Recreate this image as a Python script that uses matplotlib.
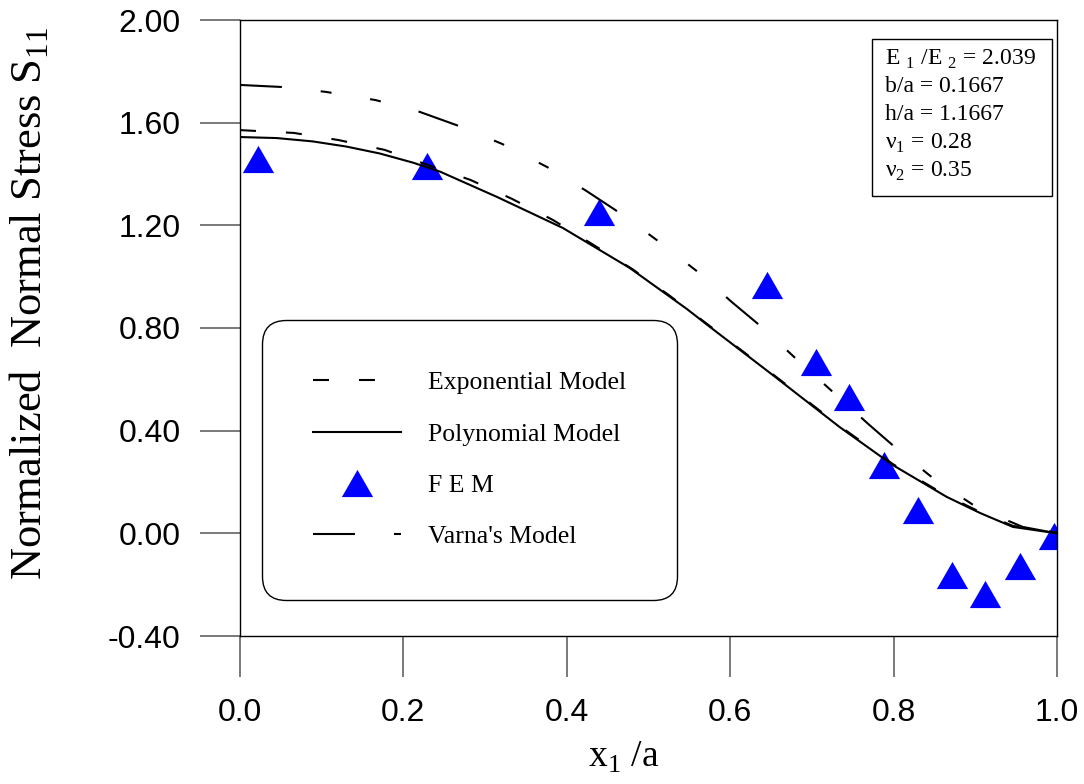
import matplotlib
matplotlib.use("Agg")
import matplotlib.pyplot as plt
from matplotlib.patches import Rectangle

# curve readings: normalized position x1/a vs normalized stress S11
poly_x = [0.0, 0.045, 0.089, 0.13, 0.171, 0.212, 0.245, 0.315, 0.395, 0.477, 0.547, 0.572,
          0.652, 0.734, 0.799, 0.865, 0.906, 0.946, 1.0]
poly_y = [1.544, 1.540, 1.527, 1.507, 1.480, 1.444, 1.409, 1.310, 1.190, 1.034, 0.874, 0.812,
          0.617, 0.414, 0.266, 0.142, 0.079, 0.025, 0.0]

expo_x = [0.0, 0.066, 0.121, 0.177, 0.230, 0.282, 0.333, 0.383, 0.431, 0.480, 0.525, 0.572,
          0.652, 0.734, 0.799, 0.865, 0.906, 0.946, 1.0]
expo_y = [1.571, 1.560, 1.532, 1.494, 1.435, 1.377, 1.303, 1.221, 1.127, 1.030, 0.928, 0.815,
          0.620, 0.418, 0.270, 0.146, 0.083, 0.029, 0.003]

varna_x = [0.0, 0.051, 0.105, 0.166, 0.220, 0.268, 0.321, 0.376, 0.424, 0.465, 0.510, 0.559,
           0.602, 0.640, 0.681, 0.727, 0.769, 0.807, 0.851, 0.903, 0.958, 1.0]
varna_y = [1.747, 1.739, 1.720, 1.688, 1.642, 1.587, 1.517, 1.427, 1.334, 1.248, 1.143, 1.022,
           0.901, 0.800, 0.679, 0.547, 0.426, 0.321, 0.208, 0.099, 0.025, 0.0]

fem_x = [0.022, 0.229, 0.439, 0.645, 0.705, 0.745, 0.788, 0.830, 0.871, 0.912, 0.955, 0.996]
fem_y = [1.460, 1.431, 1.252, 0.968, 0.668, 0.531, 0.266, 0.091, -0.162, -0.236, -0.127, -0.011]

x_ticks = [0.0, 0.2, 0.4, 0.6, 0.8, 1.0]
y_ticks = [-0.40, 0.00, 0.40, 0.80, 1.20, 1.60, 2.00]

info_lines = [
    "E $_\\mathregular{1}$ /E $_\\mathregular{2}$ = 2.039",
    "b/a = 0.1667",
    "h/a = 1.1667",
    "\u03bd$_\\mathregular{1}$ = 0.28",
    "\u03bd$_\\mathregular{2}$ = 0.35",
]

plt.rcParams["axes.unicode_minus"] = False
plt.rcParams["font.family"] = ["Liberation Serif", "DejaVu Serif"]
plt.rcParams["mathtext.fontset"] = "custom"
plt.rcParams["mathtext.rm"] = "Liberation Serif"

fig = plt.figure(figsize=(10.84, 7.84), dpi=100, facecolor="white")
ax = fig.add_axes([240 / 1084, 1 - 636 / 784, 817 / 1084, 616 / 784])

lw = 1.5
# triangle a bit wider than tall
tri = [(-1.0, -0.87), (1.0, -0.87), (0.0, 0.87), (-1.0, -0.87)]

ax.plot(expo_x, expo_y, color="black", lw=lw, dashes=(11.5 / lw, 21.6 / lw),
        label="Exponential Model", zorder=3)
ax.plot(poly_x, poly_y, color="black", lw=lw, label="Polynomial Model", zorder=3)
ax.plot(fem_x, fem_y, linestyle="none", marker=tri, markersize=22.5,
        markerfacecolor="#0000ff", markeredgewidth=0, label="F E M", zorder=2)
ax.plot(varna_x, varna_y, color="black", lw=lw,
        dashes=(30.2 / lw, 28.1 / lw, 7.9 / lw, 28.1 / lw, 7.9 / lw, 28.1 / lw),
        label="Varna's Model", zorder=3)

ax.set_xlim(0, 1.0)
ax.set_ylim(-0.4, 2.0)
ax.set_xticks(x_ticks)
ax.set_xticklabels([f"{v:.1f}" for v in x_ticks])
ax.set_yticks(y_ticks)
ax.set_yticklabels([f"{v:.2f}" for v in y_ticks])

for spine in ax.spines.values():
    spine.set_linewidth(1.0)
    spine.set_color("black")

ax.tick_params(axis="y", direction="out", length=28.8, width=1.1, color="#555555",
               pad=14, labelsize=23)
ax.tick_params(axis="x", direction="out", length=29.5, width=1.1, color="#555555",
               pad=15, labelsize=23)
for lab in ax.get_xticklabels() + ax.get_yticklabels():
    lab.set_fontfamily("Liberation Sans")

ax.set_xlabel("x$_\\mathregular{1}$ /a", fontsize=27)
ax.xaxis.set_label_coords(0.469, -0.168)
ax.set_ylabel("Normalized  Normal Stress S$_\\mathregular{11}$", fontsize=32)
ax.yaxis.set_label_coords(-0.231, 0.54)

leg = ax.legend(loc="upper left", bbox_to_anchor=(22 / 817, 316 / 616), borderaxespad=0,
                fontsize=18.5, borderpad=2.0, labelspacing=1.1, handlelength=3.4,
                handletextpad=1.05, frameon=True, fancybox=True, framealpha=1.0)
frame = leg.get_frame()
frame.set_boxstyle("round,pad=0,rounding_size=0.93")
frame.set_edgecolor("black")
frame.set_linewidth(1.0)

# parameter box in the upper right corner
ax.add_patch(Rectangle((632 / 817, 440 / 616), 180 / 817, 157 / 616, transform=ax.transAxes,
                       facecolor="white", edgecolor="black", lw=1.0, zorder=4))
for i, line in enumerate(info_lines):
    ax.text(645 / 817, (636 - 59 - 28 * i) / 616, line, transform=ax.transAxes,
            fontsize=17, ha="left", va="center", zorder=5)

fig.savefig("out.png", dpi=100, facecolor="white")
